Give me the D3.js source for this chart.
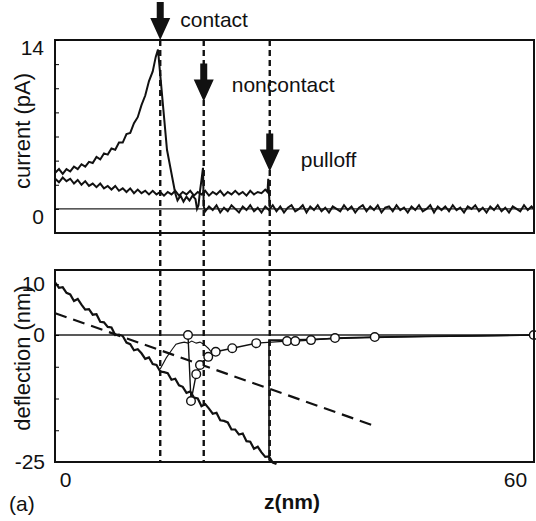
<!DOCTYPE html>
<html><head><meta charset="utf-8">
<script src="https://cdn.jsdelivr.net/npm/d3@7"></script>
<style>
body{margin:0;background:#fff}
text{font-family:"Liberation Sans",Arial,sans-serif;fill:#111}
</style></head><body>
<svg id="chart" width="536" height="521"></svg>
<script>
// axis labels / ticks
const zTicks = [0, 60]
const currentTicks = [0, 14]
const deflTicks = [10, 0, -25]

// event markers (z in nm) and where the arrow points (pA)
const markerZ = [12.7, 18.5, 27.3]
const markerNames = ["contact", "noncontact", "pulloff"]
const markerTip = [14, 8.9, 3.1]

// current (pA) vs z (nm), trace with the contact peak
const currentApproach = [
    [-1.3,3.0],[-0.8,3.3],[-0.3,2.9],[0.2,3.3],[0.7,3.1],[1.2,3.5],[1.7,3.3],[2.2,3.7],[2.7,3.5],[3.2,3.9],
    [3.7,3.8],[4.2,4.3],[4.7,4.1],[5.2,4.6],[5.7,4.5],[6.2,5.0],[6.7,4.9],[7.2,5.5],[7.7,5.5],[8.2,6.2],
    [8.7,6.3],[9.2,7.1],[9.7,7.6],[10.2,8.6],[10.7,9.4],[11.2,10.6],[11.7,11.4],[12.1,12.6],[12.4,13.2],
    [13.6,4.9],[14.7,1.3],[15.0,0.7],[15.4,1.1],[15.8,0.6],[16.2,1.0],[16.6,0.7],[17.0,1.1],[17.4,0.8],
    [17.6,0.0],[17.8,0.3],[18.0,1.5],[18.2,2.4],[18.4,3.4],[18.5,0.2],
    [18.7,-0.2],[19.2,0.2],[19.7,-0.1],[20.2,0.3],[20.7,-0.3],[21.2,0.1],[21.7,-0.2],[22.2,0.3],[22.7,0.0],
    [23.2,-0.3],[23.7,0.2],[24.2,-0.1],[24.7,0.3],[25.2,-0.2],[25.7,0.1],[26.2,-0.3],[26.7,0.2],[27.2,-0.1],
    [27.7,0.3],[28.2,-0.2],[28.7,0.2],[29.2,-0.3],[29.7,0.1],[30.2,0.3],[30.7,-0.2],[31.2,0.0],[31.7,0.3],
    [32.2,-0.3],[32.7,0.2],[33.2,-0.1],[33.7,0.3],[34.2,-0.2],[34.7,0.1],[35.2,-0.3],[35.7,0.2],[36.2,0.0],
    [36.7,-0.2],[37.2,0.3],[37.7,-0.1],[38.2,0.2],[38.7,-0.3],[39.2,0.1],[39.7,0.3],[40.2,-0.2],[40.7,0.2],
    [41.2,-0.1],[41.7,0.3],[42.2,-0.3],[42.7,0.1],[43.2,0.2],[43.7,-0.2],[44.2,0.3],[44.7,-0.1],[45.2,0.1],
    [45.7,-0.3],[46.2,0.2],[46.7,-0.1],[47.2,0.3],[47.7,-0.2],[48.2,0.0],[48.7,0.3],[49.2,-0.3],[49.7,0.2],
    [50.2,-0.1],[50.7,0.2],[51.2,-0.2],[51.7,0.3],[52.2,-0.1],[52.7,0.1],[53.2,-0.3],[53.7,0.2],[54.2,0.0],
    [54.7,0.3],[55.2,-0.2],[55.7,0.1],[56.2,-0.3],[56.7,0.2],[57.2,-0.1],[57.7,0.3],[58.2,-0.2],[58.7,0.1],
    [59.2,-0.3],[59.7,0.2],[60.2,0.0],[60.7,-0.2],[61.2,0.3],[61.7,-0.1],[62.2,0.2],[62.5,0.0]
]

// current (pA), trace ending at pull-off
const currentRetract = [
    [-1.3,2.5],[-0.8,2.2],[-0.3,2.6],[0.2,2.3],[0.7,2.5],[1.2,2.1],[1.7,2.4],[2.2,2.0],[2.7,2.3],[3.2,1.9],
    [3.7,2.1],[4.2,1.8],[4.7,2.1],[5.2,1.7],[5.7,1.9],[6.2,1.6],[6.7,1.9],[7.2,1.5],[7.7,1.7],[8.2,1.4],
    [8.7,1.7],[9.2,1.3],[9.7,1.6],[10.2,1.3],[10.7,1.5],[11.2,1.2],[11.7,1.5],[12.2,1.2],[12.7,1.4],[13.2,1.1],
    [13.7,1.4],[14.2,1.2],[14.7,1.5],[15.2,1.1],[15.7,1.4],[16.2,1.2],[16.7,1.5],[17.2,1.1],[17.7,1.4],[18.2,1.2],
    [18.7,1.5],[19.2,1.1],[19.7,1.4],[20.2,1.2],[20.7,1.5],[21.2,1.1],[21.7,1.4],[22.2,1.2],[22.7,1.5],[23.2,1.2],
    [23.7,1.4],[24.2,1.1],[24.7,1.5],[25.2,1.2],[25.7,1.4],[26.2,1.3],[26.7,1.6],[27.0,1.4],[27.1,2.5],[27.3,0.1]
]

// deflection (nm): noisy in-contact trace
const deflContact = [
    [-1.3,10.3],[-0.8,9.3],[-0.3,9.4],[0.2,8.3],[0.7,8.0],[1.2,6.7],[1.7,7.1],[2.2,6.0],[2.7,5.0],[3.2,5.1],
    [3.7,4.0],[4.2,4.1],[4.7,2.6],[5.2,2.5],[5.7,1.6],[6.2,1.5],[6.7,0.0],[7.2,0.1],[7.7,-0.2],[8.2,-1.5],
    [8.7,-1.8],[9.2,-3.0],[9.7,-2.8],[10.2,-3.6],[10.7,-4.7],[11.2,-4.4],[11.7,-5.7],[12.2,-5.9],[12.7,-7.2],[13.2,-7.3],
    [13.7,-7.5],[14.2,-8.8],[14.7,-8.6],[15.2,-9.9],[15.7,-10.2],[16.2,-11.4],[16.7,-11.1],[17.2,-12.3],[17.7,-12.5],[18.2,-14.0],
    [18.7,-13.6],[19.2,-14.5],[19.7,-15.5],[20.2,-15.3],[20.7,-16.8],[21.2,-16.9],[21.7,-17.2],[22.2,-18.6],[22.7,-18.6],[23.2,-19.6],
    [23.7,-19.4],[24.2,-20.9],[24.7,-21.0],[25.2,-22.4],[25.7,-22.0],[26.2,-23.1],[26.7,-24.0],[27.2,-23.9],[27.7,-25.1],[28.2,-25.4]
]

// deflection (nm): thin trace near the jump to contact
const deflSnap = [
    [12.7,-6.7],[13.5,-4.5],[14.3,-2.8],[14.8,-1.8],[15.3,-1.6],[15.9,-1.4],[16.4,-1.6],[16.9,-1.2],
    [17.5,-1.6],[18.0,-1.4],[18.5,-1.8],[19.1,-2.6],[19.6,-3.5]
]

// deflection (nm): pull-off jump and baseline after it
const deflPulloff = [
    [27.2,-24.6],[27.2,-1.0],[29.0,-1.0],[32.0,-0.9],[36.0,-0.7],[41.0,-0.5],[48.0,-0.3],[55.0,-0.2],[62.5,0.0]
]

// deflection (nm): points marked with open circles
const deflCircles = [
    [16.4,0.0],[16.8,-13.0],[17.5,-7.7],[18.0,-5.9],[19.1,-4.3],[20.1,-3.3],[22.3,-2.6],[25.5,-1.6],
    [29.6,-1.2],[30.7,-1.2],[32.8,-1.0],[36.0,-0.6],[41.3,-0.4],[62.5,0.0]
]

// deflection (nm): dashed straight line
const deflFit = [[-1.3, 4.3], [40.9, -17.7]]

const svg = d3.select("#chart")

const x = d3.scaleLinear().domain([-1.33, 62.53]).range([55, 534])
const yTop = d3.scaleLinear().domain([-2, 14]).range([233, 40])
const yBot = d3.scaleLinear().domain([-25, 12.8]).range([462, 270])

const lineTop = d3.line().x(d => x(d[0])).y(d => yTop(d[1]))
const lineBot = d3.line().x(d => x(d[0])).y(d => yBot(d[1]))
const plain = d => String(d)

// zero lines
svg.append("line")
    .attr("x1", x.range()[0]).attr("x2", x.range()[1])
    .attr("y1", yTop(0)).attr("y2", yTop(0))
    .attr("stroke", "#222").attr("stroke-width", 1.2)
svg.append("line")
    .attr("x1", x.range()[0]).attr("x2", x.range()[1])
    .attr("y1", yBot(0)).attr("y2", yBot(0))
    .attr("stroke", "#222").attr("stroke-width", 1.4)

// current traces
svg.append("path").attr("d", lineTop(currentRetract))
    .attr("fill", "none").attr("stroke", "#111").attr("stroke-width", 2)
svg.append("path").attr("d", lineTop(currentApproach))
    .attr("fill", "none").attr("stroke", "#111").attr("stroke-width", 2)

// deflection traces
svg.append("path").attr("d", lineBot(deflFit))
    .attr("fill", "none").attr("stroke", "#111").attr("stroke-width", 2.2)
    .attr("stroke-dasharray", "12,7")
svg.append("path").attr("d", lineBot(deflContact))
    .attr("fill", "none").attr("stroke", "#111").attr("stroke-width", 2.2)
svg.append("path").attr("d", lineBot(deflSnap))
    .attr("fill", "none").attr("stroke", "#111").attr("stroke-width", 1.1)
svg.append("path").attr("d", lineBot(deflPulloff))
    .attr("fill", "none").attr("stroke", "#111").attr("stroke-width", 1.6)
svg.append("path").attr("d", lineBot(deflCircles))
    .attr("fill", "none").attr("stroke", "#111").attr("stroke-width", 1.4)
svg.selectAll(".pt")
    .data(deflCircles)
    .join("circle")
    .attr("class", "pt")
    .attr("cx", d => x(d[0]))
    .attr("cy", d => yBot(d[1]))
    .attr("r", 4.3)
    .attr("fill", "#fff")
    .attr("stroke", "#111")
    .attr("stroke-width", 1.4)

// frames
svg.append("rect").attr("x", 55).attr("y", 40).attr("width", 479).attr("height", 193)
    .attr("fill", "none").attr("stroke", "#111").attr("stroke-width", 2)
svg.append("rect").attr("x", 55).attr("y", 270).attr("width", 479).attr("height", 192)
    .attr("fill", "none").attr("stroke", "#111").attr("stroke-width", 2)

// vertical dashed markers
svg.selectAll(".marker")
    .data(markerZ)
    .join("line")
    .attr("class", "marker")
    .attr("x1", d => x(d)).attr("x2", d => x(d))
    .attr("y1", 40).attr("y2", 462)
    .attr("stroke", "#111").attr("stroke-width", 2.4)
    .attr("stroke-dasharray", "6,4")

// arrows
const arrowPath = (cx, tip) => {
    const len = 38, head = 22, hw = 10, sw = 3.5
    return `M${cx - sw},${tip - len} L${cx + sw},${tip - len} L${cx + sw},${tip - head}
        L${cx + hw},${tip - head} L${cx},${tip} L${cx - hw},${tip - head} L${cx - sw},${tip - head} Z`
}
svg.selectAll(".arrow")
    .data(markerZ)
    .join("path")
    .attr("class", "arrow")
    .attr("d", (d, i) => arrowPath(x(d), yTop(markerTip[i])))
    .attr("fill", "#111")

const labelDx = [20, 28, 31]
const labelY = [27, 92, 167]
svg.selectAll(".mlabel")
    .data(markerNames)
    .join("text")
    .attr("class", "mlabel")
    .attr("x", (d, i) => x(markerZ[i]) + labelDx[i])
    .attr("y", (d, i) => labelY[i])
    .attr("font-size", 21)
    .text(d => d)

// axes
const gTop = svg.append("g").attr("transform", "translate(55,0)")
    .call(d3.axisLeft(yTop).tickValues(currentTicks).tickFormat(plain).tickSize(0).tickPadding(11))
gTop.select(".domain").remove()
gTop.selectAll("text").attr("font-size", 21).attr("font-family", null).attr("dy", "0.7em")

svg.append("g").attr("transform", "translate(55,0)")
    .call(d3.axisRight(yTop).tickValues(d3.range(0, 15, 2)).tickSize(4).tickFormat(""))
    .call(g => g.select(".domain").remove())

const gBot = svg.append("g").attr("transform", "translate(55,0)")
    .call(d3.axisLeft(yBot).tickValues(deflTicks).tickFormat(plain).tickSize(0).tickPadding(10))
gBot.select(".domain").remove()
gBot.selectAll("text").attr("font-size", 21).attr("font-family", null)

svg.append("g").attr("transform", "translate(55,0)")
    .call(d3.axisRight(yBot).tickValues([10, 0, -6.25, -12.5, -18.75]).tickSize(4).tickFormat(""))
    .call(g => g.select(".domain").remove())

const gX = svg.append("g").attr("transform", "translate(0,462)")
    .call(d3.axisBottom(x).tickValues(zTicks).tickFormat(plain).tickSize(0).tickPadding(10))
gX.select(".domain").remove()
gX.selectAll("text").attr("font-size", 21).attr("font-family", null)

// axis titles
svg.append("text")
    .attr("transform", "translate(30,131) rotate(-90)")
    .attr("text-anchor", "middle")
    .attr("font-size", 22)
    .text("current (pA)")
svg.append("text")
    .attr("transform", "translate(30,358) rotate(-90)")
    .attr("text-anchor", "middle")
    .attr("font-size", 22)
    .text("deflection (nm)")
svg.append("text")
    .attr("x", 292).attr("y", 509)
    .attr("text-anchor", "middle")
    .attr("font-size", 21)
    .attr("font-weight", "bold")
    .text("z(nm)")
svg.append("text")
    .attr("x", 9).attr("y", 511)
    .attr("font-size", 21)
    .text("(a)")
</script>
</body></html>
